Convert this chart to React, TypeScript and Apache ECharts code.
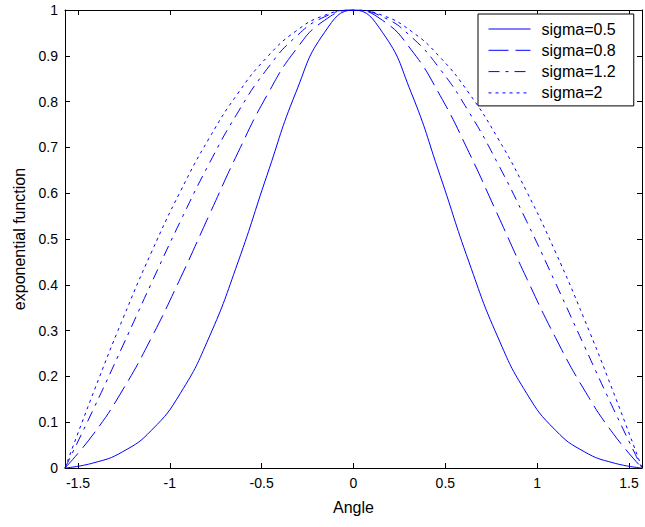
import React, { useEffect, useRef } from "react";
import * as echarts from "echarts";

const xValues = [-1.5708, -1.4137, -1.2566, -1.0996, -0.9425, -0.7854, -0.6283, -0.4712, -0.3142, -0.1571, 0, 0.1571, 0.3142, 0.4712, 0.6283, 0.7854, 0.9425, 1.0996, 1.2566, 1.4137, 1.5708];
const sigma05 = [0, 0.0113, 0.0356, 0.0825, 0.1632, 0.2861, 0.4501, 0.6388, 0.8196, 0.9515, 1, 0.9515, 0.8196, 0.6388, 0.4501, 0.2861, 0.1632, 0.0825, 0.0356, 0.0113, 0];
const sigma08 = [0, 0.0753, 0.1705, 0.2848, 0.4144, 0.5525, 0.6894, 0.8136, 0.9132, 0.9777, 1, 0.9777, 0.9132, 0.8136, 0.6894, 0.5525, 0.4144, 0.2848, 0.1705, 0.0753, 0];
const sigma12 = [0, 0.1304, 0.2665, 0.4043, 0.5388, 0.665, 0.7774, 0.871, 0.9415, 0.9852, 1, 0.9852, 0.9415, 0.871, 0.7774, 0.665, 0.5388, 0.4043, 0.2665, 0.1304, 0];
const sigma2 = [0, 0.1671, 0.3251, 0.4715, 0.604, 0.7204, 0.8186, 0.8969, 0.9538, 0.9884, 1, 0.9884, 0.9538, 0.8969, 0.8186, 0.7204, 0.604, 0.4715, 0.3251, 0.1671, 0];
const seriesNames = ["sigma=0.5", "sigma=0.8", "sigma=1.2", "sigma=2"];

const FONT = "'Liberation Sans', Arial, sans-serif";

export default function App() {
  const ref = useRef<HTMLDivElement>(null);
  useEffect(() => {
    if (!ref.current) return;
    const chart = echarts.init(ref.current, undefined, { renderer: "svg" });
    const values = [sigma05, sigma08, sigma12, sigma2];
    const dashes: any[] = ["solid", [20, 7], [11, 6, 3, 6], [3, 4]];
    const axisCommon = {
      axisLine: { show: true, onZero: false, lineStyle: { color: "#000", width: 1 } },
      axisTick: { show: true, inside: true, length: 5, lineStyle: { color: "#000" } },
      splitLine: { show: false },
    };
    const xFmt = (v: number) =>
      Math.abs(v * 2 - Math.round(v * 2)) < 1e-6 ? String(v) : "";
    chart.setOption({
      animation: false,
      backgroundColor: "#fff",
      grid: { left: 65, top: 10, width: 584, height: 458, containLabel: false },
      xAxis: [
        {
          type: "value",
          min: -1.5708,
          max: 1.5708,
          splitNumber: 6,
          position: "bottom",
          ...axisCommon,
          axisLabel: { color: "#000", fontFamily: FONT, fontSize: 14, margin: 8, formatter: xFmt },
          name: "Angle",
          nameLocation: "middle",
          nameGap: 31,
          nameTextStyle: { color: "#000", fontFamily: FONT, fontSize: 16 },
        },
        {
          type: "value",
          min: -1.5708,
          max: 1.5708,
          splitNumber: 6,
          position: "top",
          ...axisCommon,
          axisLabel: { show: false },
        },
      ],
      yAxis: [
        {
          type: "value",
          min: 0,
          max: 1,
          interval: 0.1,
          position: "left",
          ...axisCommon,
          axisLabel: { color: "#000", fontFamily: FONT, fontSize: 14, margin: 7 },
          name: "exponential function",
          nameLocation: "middle",
          nameGap: 36,
          nameTextStyle: { color: "#000", fontFamily: FONT, fontSize: 16 },
        },
        {
          type: "value",
          min: 0,
          max: 1,
          interval: 0.1,
          position: "right",
          ...axisCommon,
          axisLabel: { show: false },
        },
      ],
      legend: {
        orient: "vertical",
        left: 478,
        top: 14,
        padding: [7, 18, 5, 10],
        itemGap: 5.3,
        itemWidth: 42,
        itemHeight: 13,
        backgroundColor: "#fff",
        borderColor: "#000",
        borderWidth: 1,
        borderRadius: 0,
        itemStyle: { opacity: 0 },
        lineStyle: { width: 1 },
        data: seriesNames,
        textStyle: { color: "#000", fontFamily: FONT, fontSize: 16, lineHeight: 16, padding: [0, 0, 0, 6] },
      },
      series: values.map((vals, i) => ({
        name: seriesNames[i],
        type: "line",
        xAxisIndex: 0,
        yAxisIndex: 0,
        data: xValues.map((x, j) => [x, vals[j]]),
        smooth: true,
        symbol: "none",
        lineStyle: { color: "#0000ff", width: 1, type: dashes[i] },
        itemStyle: { color: "#0000ff" },
      })),
    });
    return () => chart.dispose();
  }, []);
  return (
    <div
      ref={ref}
      style={{ position: "fixed", left: 0, top: 0, width: 645, height: 527, background: "#fff" }}
    />
  );
}
